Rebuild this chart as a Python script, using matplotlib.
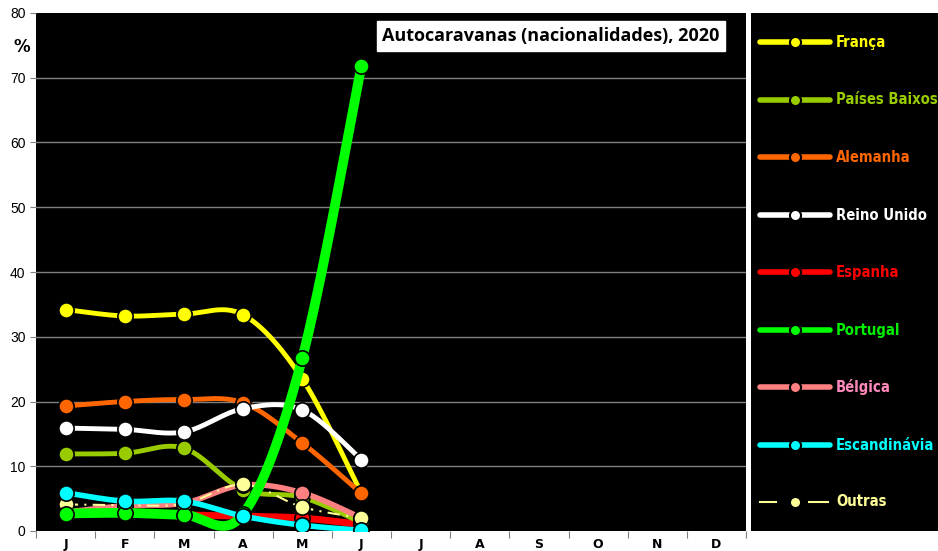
import numpy as np
import matplotlib
matplotlib.use("Agg")
import matplotlib.pyplot as plt
from matplotlib import font_manager

months = ["J", "F", "M", "A", "M", "J", "J", "A", "S", "O", "N", "D"]
series_names = ["França", "Países Baixos", "Alemanha", "Reino Unido", "Espanha",
                "Portugal", "Bélgica", "Escandinávia", "Outras"]
franca = [34.2, 33.2, 33.5, 33.4, 23.5, 5.8]
paises_baixos = [11.9, 12.0, 12.8, 6.4, 5.2, 1.3]
alemanha = [19.3, 20.0, 20.3, 19.8, 13.6, 5.8]
reino_unido = [15.9, 15.7, 15.3, 18.9, 18.7, 11.0]
espanha = [2.9, 3.0, 2.5, 2.3, 2.0, 1.0]
portugal = [2.7, 2.8, 2.5, 2.6, 26.7, 71.8]
belgica = [2.9, 3.9, 4.3, 7.1, 5.9, 2.0]
escandinavia = [5.9, 4.6, 4.6, 2.3, 0.9, 0.1]
outras = [4.1, 4.0, 4.2, 7.2, 3.7, 2.0]
colors = ["#ffff00", "#99cc00", "#ff6600", "#ffffff", "#ff0000",
          "#00ff00", "#ff8080", "#00ffff", "#ffff99"]
text_colors = ["#ffff00", "#99cc00", "#ff6600", "#ffffff", "#ff0000",
               "#00ee00", "#ff88bb", "#00ffff", "#ffff99"]
all_series = [franca, paises_baixos, alemanha, reino_unido, espanha,
              portugal, belgica, escandinavia, outras]

cond_fonts = sorted({f.fname for f in font_manager.fontManager.ttflist
                     if "condensed" in f.fname.lower() and "bold" in f.fname.lower()
                     and "oblique" not in f.fname.lower() and "italic" not in f.fname.lower()})
cond_prop = None
for fn in cond_fonts:
    if "dejavu" in fn.lower():
        cond_prop = font_manager.FontProperties(fname=fn, size=10.6)
        break
if cond_prop is None and cond_fonts:
    cond_prop = font_manager.FontProperties(fname=cond_fonts[0], size=10.6)
if cond_prop is None:
    cond_prop = font_manager.FontProperties(family="DejaVu Sans", weight="bold", size=9.5)


def smooth(x, y, n=30):
    # Catmull-Rom style Bezier smoothing (like spreadsheet smoothed lines)
    x = np.asarray(x, float); y = np.asarray(y, float)
    px = np.concatenate([[x[0]], x, [x[-1]]])
    py = np.concatenate([[y[0]], y, [y[-1]]])
    xs, ys = [], []
    t = np.linspace(0, 1, n)
    for i in range(1, len(px) - 2):
        p0 = np.array([px[i], py[i]]); p3 = np.array([px[i + 1], py[i + 1]])
        p1 = p0 + (np.array([px[i + 1], py[i + 1]]) - np.array([px[i - 1], py[i - 1]])) / 6
        p2 = p3 - (np.array([px[i + 2], py[i + 2]]) - np.array([px[i], py[i]])) / 6
        b = ((1 - t) ** 3)[:, None] * p0 + (3 * (1 - t) ** 2 * t)[:, None] * p1 + \
            (3 * (1 - t) * t ** 2)[:, None] * p2 + (t ** 3)[:, None] * p3
        xs.extend(b[:, 0]); ys.extend(b[:, 1])
    return np.array(xs), np.array(ys)


fig = plt.figure(figsize=(9.38, 5.51), dpi=100)
fig.patch.set_facecolor("white")
W, H = 938, 551
ax = fig.add_axes([36 / W, (551 - 531) / H, (746 - 36) / W, (531 - 13) / H])
ax.set_facecolor("black")
ax.set_xlim(0, 12)
ax.set_ylim(0, 80)
ax.set_yticks(range(0, 81, 10))
for v in range(10, 80, 10):
    ax.axhline(v, color="#808080", lw=1, zorder=1)
ax.tick_params(axis="y", labelsize=10, length=4, color="#808080")
for lab in ax.get_yticklabels():
    lab.set_fontfamily("Liberation Sans")
ax.set_xticks(np.arange(0, 13), minor=False)
ax.set_xticklabels([])
ax.set_xticks(np.arange(12) + 0.5, minor=True)
ax.set_xticklabels(months, minor=True, fontsize=9, fontweight="bold")
ax.tick_params(axis="x", which="major", length=5, color="#808080")
ax.tick_params(axis="x", which="minor", length=0, pad=5)
for s in ax.spines.values():
    s.set_visible(False)

xpos = np.arange(6) + 0.5
lws = [3.5, 3.5, 3.5, 3.5, 5, 7, 4, 4, 1.5]
zs = [5, 4, 6, 7, 3, 8, 5, 9, 6]
for i, (vals, c) in enumerate(zip(all_series, colors)):
    sx, sy = smooth(xpos, vals)
    if series_names[i] == "Outras":
        ax.plot(sx, sy, color=c, lw=lws[i], ls=(0, (6, 3, 1, 3)), zorder=zs[i])
    else:
        ax.plot(sx, sy, color=c, lw=lws[i], zorder=zs[i], solid_capstyle="round")
    ax.plot(xpos, vals, ls="none", marker="o", ms=11, mfc=c, mec="black", mew=1.2,
            zorder=zs[i] + 0.5)

fig.text(13 / W, 1 - 47 / H, "%", fontsize=12, fontweight="bold", ha="left", va="center")
fig.text(551 / W, 1 - 36 / H, "Autocaravanas (nacionalidades), 2020", fontsize=13.0,
         fontweight="bold", family="Open Sans", ha="center", va="center",
         bbox=dict(facecolor="white", edgecolor="white", boxstyle="square,pad=0.32"))

lax = fig.add_axes([751 / W, (551 - 531) / H, (938 - 751) / W, (531 - 13) / H])
lax.set_facecolor("black")
lax.set_xlim(751, 938)
lax.set_ylim(531, 13)
lax.set_xticks([]); lax.set_yticks([])
for s in lax.spines.values():
    s.set_visible(False)
ly = [42, 100, 157, 215, 272, 330, 387, 445, 502]
for i, name in enumerate(series_names):
    c = colors[i]
    if name == "Outras":
        lax.plot([760, 776], [ly[i], ly[i]], color=c, lw=1.5)
        lax.plot([809, 828], [ly[i], ly[i]], color=c, lw=1.5)
    else:
        lax.plot([760, 830], [ly[i], ly[i]], color=c, lw=4, solid_capstyle="round")
    lax.plot([795], [ly[i]], marker="o", ms=8, mfc=c, mec="black", mew=1.5)
    lax.text(836, ly[i], name, color=text_colors[i], fontproperties=cond_prop,
             va="center", ha="left")

fig.savefig("out.png", dpi=100, facecolor="white")
